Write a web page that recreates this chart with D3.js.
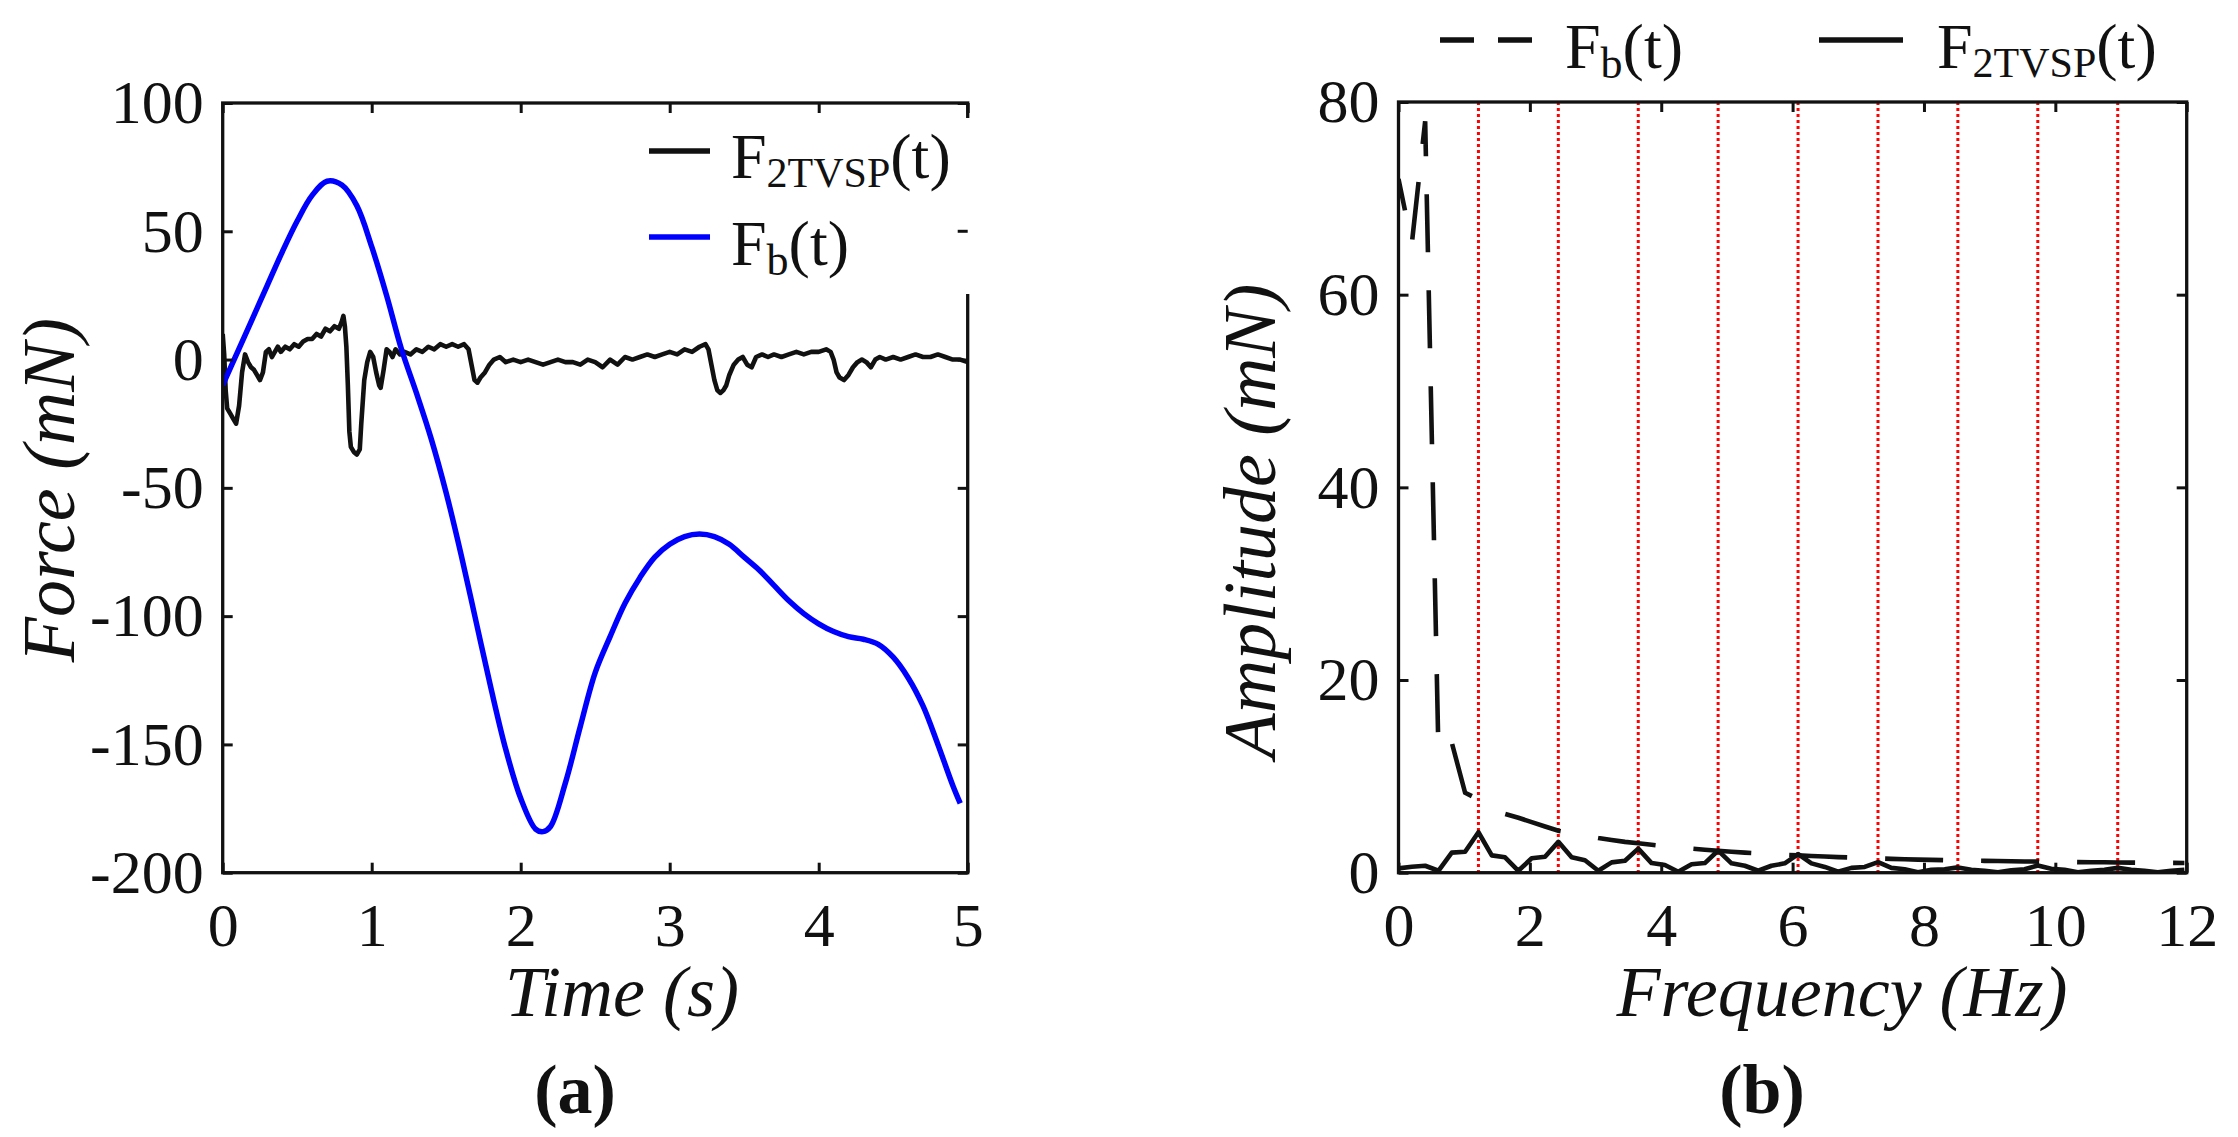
<!DOCTYPE html>
<html>
<head>
<meta charset="utf-8">
<script src="https://cdn.jsdelivr.net/npm/d3@7"></script>
<style>
  body { margin: 0; background: #fff; }
  text { font-family: "Liberation Serif", "Times New Roman", serif; fill: #111; }
</style>
</head>
<body>
<div id="chart"></div>
<script>
// (a) time domain
var fbTime = [0, 0.1, 0.2, 0.3, 0.4, 0.5, 0.6, 0.7, 0.8, 0.9, 1.0, 1.1, 1.2, 1.3, 1.4, 1.5, 1.6, 1.7, 1.8, 1.9,
              2.0, 2.1, 2.15, 2.2, 2.3, 2.4, 2.5, 2.6, 2.7, 2.8, 2.9, 3.0, 3.1, 3.2, 3.3, 3.4, 3.5, 3.6, 3.7,
              3.8, 3.9, 4.0, 4.1, 4.2, 4.3, 4.4, 4.5, 4.6, 4.7, 4.8, 4.9, 4.95];
var fbForce = [-10, 3, 16, 29, 42, 54, 64, 69.5, 68, 60, 44, 25, 4, -13, -31, -52, -76, -102, -128, -152,
               -171, -183, -184, -182, -165, -143, -122, -108, -95, -85, -77, -72, -69, -68, -69, -72, -77, -82, -88,
               -94, -99, -103, -106, -108, -109, -111, -116, -124, -135, -150, -166, -173];

var tvTime = [0, 0.01, 0.02, 0.03, 0.05, 0.07, 0.09, 0.11, 0.13, 0.15, 0.17, 0.19, 0.21, 0.23, 0.25, 0.27, 0.29,
              0.31, 0.33, 0.35, 0.37, 0.39, 0.42, 0.45, 0.48, 0.51, 0.54, 0.57, 0.60, 0.63, 0.66, 0.69, 0.72,
              0.75, 0.78, 0.80, 0.81, 0.82, 0.83, 0.84, 0.85, 0.86, 0.88, 0.90, 0.92, 0.93, 0.95, 0.97, 0.99,
              1.01, 1.03, 1.05, 1.06, 1.08, 1.10, 1.12, 1.14, 1.16, 1.19, 1.22, 1.26, 1.30, 1.34, 1.38, 1.42,
              1.46, 1.50, 1.54, 1.58, 1.62, 1.65, 1.67, 1.69, 1.71, 1.73, 1.76, 1.79, 1.82, 1.86, 1.90, 1.95,
              2.00, 2.05, 2.10, 2.15, 2.20, 2.25, 2.30, 2.35, 2.40, 2.45, 2.50, 2.55, 2.60, 2.65, 2.70, 2.75,
              2.80, 2.85, 2.90, 2.95, 3.00, 3.05, 3.10, 3.15, 3.20, 3.24, 3.26, 3.28, 3.30, 3.32, 3.34, 3.36,
              3.38, 3.40, 3.43, 3.46, 3.49, 3.52, 3.55, 3.58, 3.62, 3.66, 3.70, 3.75, 3.80, 3.85, 3.90, 3.95,
              4.00, 4.05, 4.08, 4.10, 4.12, 4.14, 4.17, 4.20, 4.23, 4.26, 4.29, 4.32, 4.35, 4.38, 4.41, 4.45,
              4.50, 4.55, 4.60, 4.65, 4.70, 4.75, 4.80, 4.85, 4.90, 4.95, 5.00];
var tvForce = [10, 2, -12, -19, -21, -23, -25, -18, -5, 2, -1, -3, -4, -6, -8, -5, 3,
               4, 1, 3, 5, 3, 5, 4, 6, 5, 7, 8, 8, 10, 9, 12, 11,
               13, 12, 15, 17, 13, 5, -10, -28, -34, -36, -37, -35, -25, -8, -1, 3,
               1, -5, -10, -11, -4, 4, 3, 1, 4, 2, 3, 2, 4, 3, 5, 4,
               6, 5, 6, 5, 6, 4, -2, -8, -9, -7, -5, -2, 0, 1, -1, 0,
               -1, 0, -1, -2, -1, 0, -1, -1, -2, 0, -1, -3, 0, -2, 1, 0,
               1, 2, 1, 2, 3, 2, 4, 3, 5, 6, 4, -2, -8, -12, -13, -12,
               -10, -6, -2, 0, 1, -2, -3, 1, 2, 1, 2, 1, 2, 3, 2, 3,
               3, 4, 3, 0, -5, -7, -8, -6, -3, -1, 0, -1, -3, 0, 1, 0,
               1, 0, 1, 2, 1, 1, 2, 1, 0, 0, -1];

var timeTicks = [0, 1, 2, 3, 4, 5];
var forceTicks = [-200, -150, -100, -50, 0, 50, 100];

// (b) spectrum
var freqBins = [0, 0.203, 0.406, 0.608, 0.811, 1.014, 1.217, 1.42, 1.622, 1.825, 2.028, 2.231, 2.434, 2.636, 2.839,
                3.042, 3.245, 3.448, 3.65, 3.853, 4.056, 4.259, 4.462, 4.664, 4.867, 5.07, 5.273, 5.476, 5.678,
                5.881, 6.084, 6.287, 6.49, 6.692, 6.895, 7.098, 7.301, 7.504, 7.706, 7.909, 8.112, 8.315, 8.518,
                8.72, 8.923, 9.126, 9.329, 9.532, 9.734, 9.937, 10.14, 10.343, 10.546, 10.748, 10.951, 11.154,
                11.357, 11.56, 11.762, 11.965];
var fbAmp = [72, 65.3, 78, 12.5, 13.5, 8.3, 7.6, 6.7, 6.1, 5.7, 5.25, 4.8, 4.35, 4.1, 3.85,
             3.6, 3.4, 3.2, 3.05, 2.9, 2.75, 2.6, 2.5, 2.38, 2.28, 2.18, 2.08, 2.0, 1.93,
             1.86, 1.8, 1.74, 1.68, 1.62, 1.57, 1.52, 1.48, 1.44, 1.4, 1.36, 1.33, 1.3, 1.27,
             1.25, 1.23, 1.21, 1.19, 1.17, 1.15, 1.13, 1.12, 1.1, 1.09, 1.08, 1.06, 1.05,
             1.04, 1.03, 1.02, 1.01];
var tvAmp = [0.45, 0.62, 0.72, 0.2, 2.08, 2.18, 4.2, 1.8, 1.6, 0.2, 1.5, 1.66, 3.2, 1.6, 1.3,
             0.2, 1.07, 1.24, 2.5, 1.0, 0.8, 0.1, 0.87, 1.0, 2.3, 0.97, 0.72, 0.2, 0.72,
             0.97, 1.93, 0.97, 0.6, 0.1, 0.5, 0.6, 1.1, 0.5, 0.35, 0.05, 0.3, 0.35, 0.55,
             0.3, 0.2, 0.05, 0.25, 0.35, 0.75, 0.4, 0.3, 0.05, 0.2, 0.3, 0.5, 0.3,
             0.2, 0.05, 0.2, 0.3];
var harmonics = [1.217, 2.433, 3.65, 4.866, 6.083, 7.3, 8.516, 9.733, 10.95];

var freqTicks = [0, 2, 4, 6, 8, 10, 12];
var ampTicks = [0, 20, 40, 60, 80];

var W = 2238, H = 1137;
var ink = "#111";

var svg = d3.select("#chart").append("svg")
    .attr("width", W)
    .attr("height", H)
    .style("background", "#fff");

// plain labels, hyphen for negatives like the original
var plain = function(d) { return String(d); };

// draws the boxed axes, ticks on all four sides pointing in
function drawAxes(x, y, xt, yt) {
  var x0 = x.range()[0], x1 = x.range()[1];
  var y0 = y.range()[1], y1 = y.range()[0];

  var gb = svg.append("g").attr("transform", "translate(0," + y1 + ")")
      .call(d3.axisBottom(x).tickValues(xt).tickFormat(plain).tickSize(-10).tickSizeOuter(0).tickPadding(29));
  var gl = svg.append("g").attr("transform", "translate(" + x0 + ",0)")
      .call(d3.axisLeft(y).tickValues(yt).tickFormat(plain).tickSize(-10).tickSizeOuter(0).tickPadding(19));
  var gt = svg.append("g").attr("transform", "translate(0," + y0 + ")")
      .call(d3.axisTop(x).tickValues(xt).tickSize(-10).tickSizeOuter(0).tickFormat(""));
  var gr = svg.append("g").attr("transform", "translate(" + x1 + ",0)")
      .call(d3.axisRight(y).tickValues(yt).tickSize(-10).tickSizeOuter(0).tickFormat(""));

  [gb, gl, gt, gr].forEach(function(g) {
    g.attr("font-family", null);
    g.select(".domain").remove();
    g.selectAll("line").attr("stroke", ink).attr("stroke-width", 3);
    g.selectAll("text").attr("font-size", 62).attr("fill", ink);
  });

  svg.append("rect")
     .attr("x", x0).attr("y", y0)
     .attr("width", x1 - x0).attr("height", y1 - y0)
     .attr("fill", "none").attr("stroke", ink).attr("stroke-width", 3.3);
}

function clip(id, x, y) {
  svg.append("clipPath").attr("id", id).append("rect")
     .attr("x", x.range()[0]).attr("y", y.range()[1])
     .attr("width", x.range()[1] - x.range()[0])
     .attr("height", y.range()[0] - y.range()[1]);
}

function subLabel(x, y, main, sub, tail, fs, subFs, shift) {
  var t = svg.append("text").attr("x", x).attr("y", y).attr("font-size", fs);
  t.append("tspan").text(main);
  t.append("tspan").attr("font-size", subFs).attr("dy", shift).text(sub);
  t.append("tspan").attr("dy", -shift).text(tail);
}

// ---------- panel (a) ----------
var xa = d3.scaleLinear().domain([0, 5]).range([222.7, 967.7]);
var ya = d3.scaleLinear().domain([-200, 100]).range([872.7, 103]);
clip("clipA", xa, ya);

var lineA = d3.line().x(function(d) { return xa(d[0]); }).y(function(d) { return ya(d[1]); });

svg.append("path")
   .datum(tvTime.map(function(t, i) { return [t, tvForce[i]]; }))
   .attr("clip-path", "url(#clipA)")
   .attr("d", lineA)
   .attr("fill", "none").attr("stroke", ink).attr("stroke-width", 4.6)
   .attr("stroke-linejoin", "round");

svg.append("path")
   .datum(fbTime.map(function(t, i) { return [t, fbForce[i]]; }))
   .attr("clip-path", "url(#clipA)")
   .attr("d", lineA.curve(d3.curveCatmullRom))
   .attr("fill", "none").attr("stroke", "#0000ff").attr("stroke-width", 5.5);

drawAxes(xa, ya, timeTicks, forceTicks);

// legend box hides part of the right border
svg.append("rect").attr("x", 955).attr("y", 118).attr("width", 20).attr("height", 176).attr("fill", "#fff");
svg.append("line").attr("x1", 957.7).attr("x2", 967.7).attr("y1", ya(50)).attr("y2", ya(50))
   .attr("stroke", ink).attr("stroke-width", 3);

svg.append("line").attr("x1", 649).attr("x2", 710).attr("y1", 151).attr("y2", 151)
   .attr("stroke", ink).attr("stroke-width", 5.5);
subLabel(731, 178, "F", "2TVSP", "(t)", 64, 42, 9);
svg.append("line").attr("x1", 649).attr("x2", 710).attr("y1", 237).attr("y2", 237)
   .attr("stroke", "#0000ff").attr("stroke-width", 5.5);
subLabel(731, 265, "F", "b", "(t)", 64, 44, 10);

svg.append("text").attr("transform", "translate(74,490) rotate(-90)")
   .attr("text-anchor", "middle").attr("font-size", 74).attr("font-style", "italic")
   .text("Force (mN)");
svg.append("text").attr("x", 622).attr("y", 1016)
   .attr("text-anchor", "middle").attr("font-size", 72).attr("font-style", "italic")
   .text("Time (s)");
svg.append("text").attr("x", 575).attr("y", 1113)
   .attr("text-anchor", "middle").attr("font-size", 70).attr("font-weight", "bold")
   .text("(a)");

// ---------- panel (b) ----------
var xb = d3.scaleLinear().domain([0, 12]).range([1398.5, 2186.7]);
var yb = d3.scaleLinear().domain([0, 80]).range([872.7, 102]);
clip("clipB", xb, yb);

svg.selectAll(".harm")
   .data(harmonics)
   .enter()
   .append("line")
   .attr("class", "harm")
   .attr("x1", function(d) { return xb(d); })
   .attr("x2", function(d) { return xb(d); })
   .attr("y1", yb(80)).attr("y2", yb(0))
   .attr("stroke", "#ff0000").attr("stroke-width", 3).attr("stroke-dasharray", "3,3");

var lineB = d3.line().x(function(d) { return xb(d[0]); }).y(function(d) { return yb(d[1]); });

svg.append("path")
   .datum(freqBins.map(function(f, i) { return [f, fbAmp[i]]; }))
   .attr("clip-path", "url(#clipB)")
   .attr("d", lineB)
   .attr("fill", "none").attr("stroke", ink).attr("stroke-width", 4.6)
   .attr("stroke-dasharray", "58,38").attr("stroke-dashoffset", -70);

svg.append("path")
   .datum(freqBins.map(function(f, i) { return [f, tvAmp[i]]; }))
   .attr("clip-path", "url(#clipB)")
   .attr("d", lineB)
   .attr("fill", "none").attr("stroke", ink).attr("stroke-width", 4.6)
   .attr("stroke-linejoin", "round");

drawAxes(xb, yb, freqTicks, ampTicks);

svg.append("line").attr("x1", 1440).attr("x2", 1532).attr("y1", 40).attr("y2", 40)
   .attr("stroke", ink).attr("stroke-width", 5.5).attr("stroke-dasharray", "34,24");
subLabel(1565, 68, "F", "b", "(t)", 64, 44, 10);
svg.append("line").attr("x1", 1819).attr("x2", 1903).attr("y1", 40).attr("y2", 40)
   .attr("stroke", ink).attr("stroke-width", 5.5);
subLabel(1937, 68, "F", "2TVSP", "(t)", 64, 42, 9);

svg.append("text").attr("transform", "translate(1275,521) rotate(-90)")
   .attr("text-anchor", "middle").attr("font-size", 74).attr("font-style", "italic")
   .text("Amplitude (mN)");
svg.append("text").attr("x", 1842).attr("y", 1016)
   .attr("text-anchor", "middle").attr("font-size", 72).attr("font-style", "italic")
   .text("Frequency (Hz)");
svg.append("text").attr("x", 1762).attr("y", 1113)
   .attr("text-anchor", "middle").attr("font-size", 70).attr("font-weight", "bold")
   .text("(b)");
</script>
</body>
</html>
